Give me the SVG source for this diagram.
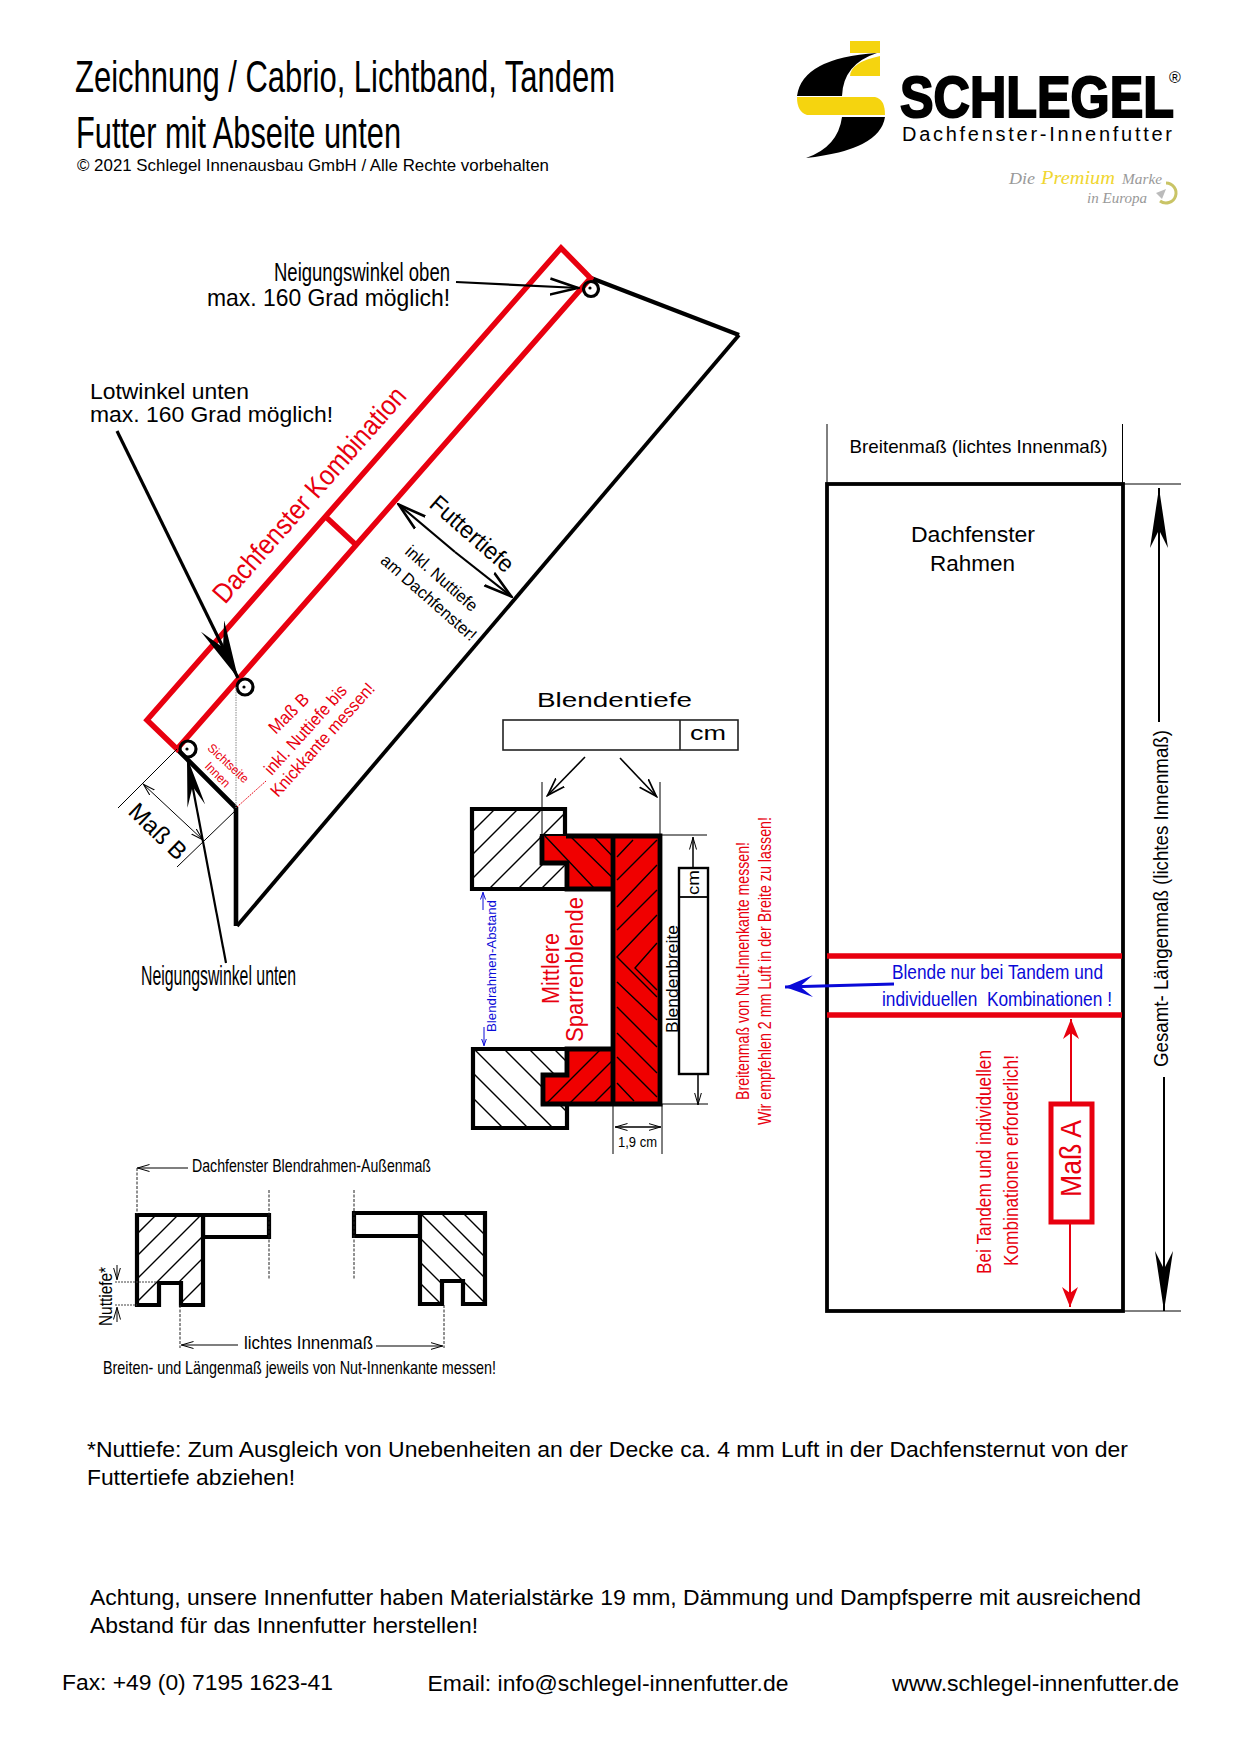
<svg xmlns="http://www.w3.org/2000/svg" width="1240" height="1754" viewBox="0 0 1240 1754">
<style>
text{font-family:"Liberation Sans",Arial,sans-serif;fill:#000;white-space:pre}
.r{fill:#e8000f}.b{fill:#0a0ad8}
.ln{fill:none;stroke:#000;stroke-linejoin:miter}
.red{fill:none;stroke:#e8000f;stroke-width:5.5}
.thin{fill:none;stroke:#000;stroke-width:1}
.h{stroke:#000;stroke-width:1.4;fill:none}
.dash{stroke:#222;stroke-width:1;stroke-dasharray:3 1.5;fill:none}
.block{fill:#fff;stroke:#000;stroke-width:4.2}
.sc{font-family:"Liberation Serif",serif;font-style:italic;fill:#999}
</style>
<defs>
<marker id="spear" markerUnits="userSpaceOnUse" viewBox="0 0 60 18" refX="60" refY="9" markerWidth="60" markerHeight="18" orient="auto"><path d="M60 9L0 0L18 9L0 18Z"/></marker>
<marker id="spearL" markerUnits="userSpaceOnUse" viewBox="0 0 58 26" refX="58" refY="13" markerWidth="58" markerHeight="26" orient="auto"><path d="M58 13L0 0L24 13L0 26Z"/></marker>
<marker id="spearS" markerUnits="userSpaceOnUse" viewBox="0 0 50 18" refX="50" refY="9" markerWidth="50" markerHeight="18" orient="auto"><path d="M50 9L0 0L20 9L0 18Z"/></marker>
<marker id="redHead" markerUnits="userSpaceOnUse" viewBox="0 0 20 16" refX="20" refY="8" markerWidth="20" markerHeight="16" orient="auto"><path d="M20 8L0 0L6 8L0 16Z" fill="#e8000f"/></marker>
<marker id="blueHead" markerUnits="userSpaceOnUse" viewBox="0 0 28 22" refX="28" refY="11" markerWidth="28" markerHeight="22" orient="auto"><path d="M28 11L0 0L13 11L0 22Z" fill="#0a0ad8"/></marker>
<marker id="openL" markerUnits="userSpaceOnUse" viewBox="0 0 30 20" refX="29" refY="10" markerWidth="30" markerHeight="20" orient="auto"><path d="M0 2L28 10L0 18" fill="none" stroke="#000" stroke-width="2.6"/></marker>
<marker id="openM" markerUnits="userSpaceOnUse" viewBox="0 0 20 14" refX="19" refY="7" markerWidth="20" markerHeight="14" orient="auto"><path d="M0 1L18 7L0 13" fill="none" stroke="#000" stroke-width="1.7"/></marker>
<marker id="openS" markerUnits="userSpaceOnUse" viewBox="0 0 13 8" refX="12.5" refY="4" markerWidth="13" markerHeight="8" orient="auto-start-reverse"><path d="M0 .5L12 4L0 7.5" fill="none" stroke="#000" stroke-width="1"/></marker>
<marker id="blueS" markerUnits="userSpaceOnUse" viewBox="0 0 8 6" refX="7.5" refY="3" markerWidth="8" markerHeight="6" orient="auto"><path d="M0 .5L7 3L0 5.5" fill="none" stroke="#0a0ad8" stroke-width="1"/></marker>
<clipPath id="c1"><path d="M472 809H565V836H542V863H567V889H472Z"/></clipPath>
<clipPath id="c2"><path d="M473 1049H567V1075H543V1103H567V1128H473Z"/></clipPath>
<clipPath id="c3"><path d="M542 836H613V889H567V863H542Z"/></clipPath>
<clipPath id="c4"><path d="M567 1049H613V1103H543V1075H567Z"/></clipPath>
<clipPath id="c6"><path d="M137 1215H203V1305H181V1283H159V1305H137Z"/></clipPath>
<clipPath id="c7"><path d="M420 1213H485V1304H463V1281H442V1304H420Z"/></clipPath>
</defs>
<rect width="1240" height="1754" fill="#fff"/>

<g id="title">
<text x="75" y="92" font-size="44" textLength="540" lengthAdjust="spacingAndGlyphs">Zeichnung / Cabrio, Lichtband, Tandem</text>
<text x="76" y="148" font-size="44" textLength="325" lengthAdjust="spacingAndGlyphs">Futter mit Abseite unten</text>
<text x="77" y="171" font-size="17" textLength="472" lengthAdjust="spacingAndGlyphs">© 2021 Schlegel Innenausbau GmbH / Alle Rechte vorbehalten</text>
</g>

<g id="logo">
<rect x="850" y="41" width="30" height="12" fill="#f5d40f"/>
<path d="M880 56V76H850Q851 62 880 56Z" fill="#f5d40f"/>
<path d="M877 53Q802 58 797 96H842Q843 64 877 53Z" fill="#000"/>
<path d="M797 97H875Q885 99 885 115H807Q797 112 797 97Z" fill="#f5d40f"/>
<path d="M842 117H885Q880 150 806 158Q838 147 842 117Z" fill="#000"/>
<text x="900" y="117" font-size="58" font-weight="700" textLength="274" lengthAdjust="spacingAndGlyphs" stroke="#000" stroke-width="2">SCHLEGEL</text>
<text x="1169" y="83" font-size="16">®</text>
<text x="902" y="141" font-size="20" textLength="270">Dachfenster-Innenfutter</text>
<text x="1009" y="184" class="sc" font-size="17" textLength="26" lengthAdjust="spacingAndGlyphs">Die</text>
<text x="1041" y="184" class="sc" style="fill:#f0d630" font-size="19" textLength="74" lengthAdjust="spacingAndGlyphs">Premium</text>
<text x="1122" y="184" class="sc" font-size="15" textLength="40" lengthAdjust="spacingAndGlyphs">Marke</text>
<text x="1087" y="203" class="sc" font-size="15" textLength="60" lengthAdjust="spacingAndGlyphs">in Europa</text>
<path d="M1166 183A10 10 0 1 1 1160 201" fill="none" stroke="#c9c466" stroke-width="3"/>
<path d="M1156 193L1166 189L1162 199Z" fill="#bbb"/>
</g>

<g id="roof-section">
<path class="ln" stroke-width="4.2" d="M591 278L739 335"/>
<path class="ln" stroke-width="3.8" d="M739 335L237 926"/>
<path class="ln" stroke-width="4.6" d="M236 926V808L177 749"/>
<path class="red" d="M561 248L590.5 278L177 749L147 720Z"/>
<path class="red" d="M326 517L355 544"/>
<circle class="ln" stroke-width="3.2" cx="591" cy="289" r="7.5"/><circle cx="590" cy="288" r="1.6"/>
<circle class="ln" stroke-width="3.2" cx="245" cy="687" r="8"/><circle cx="244" cy="687" r="1.6"/>
<circle class="ln" stroke-width="3.2" cx="188" cy="749" r="8"/><circle cx="187" cy="749" r="1.6"/>
<path d="M236 687V808" stroke="#888" stroke-width="1" stroke-dasharray="1.5 1" fill="none"/>
<path d="M237 807L266 781" stroke="#e8000f" stroke-width="1" stroke-dasharray="1.5 1" fill="none"/>
<text transform="translate(225 605) rotate(-48.7)" class="r" font-size="28" textLength="277" lengthAdjust="spacingAndGlyphs">Dachfenster Kombination</text>
<text transform="translate(428 506) rotate(41.3)" font-size="24" textLength="103" lengthAdjust="spacingAndGlyphs">Futtertiefe</text>
<text transform="translate(404 553) rotate(41.3)" font-size="17" textLength="90" lengthAdjust="spacingAndGlyphs">inkl. Nuttiefe</text>
<text transform="translate(379.5 562) rotate(41.3)" font-size="17" textLength="121" lengthAdjust="spacingAndGlyphs">am Dachfenster!</text>
<text transform="translate(275.7 735) rotate(-45)" class="r" font-size="18" textLength="49" lengthAdjust="spacingAndGlyphs">Maß B</text>
<text transform="translate(271.7 776) rotate(-48)" class="r" font-size="17.5" textLength="114" lengthAdjust="spacingAndGlyphs">inkl. Nuttiefe bis</text>
<text transform="translate(278 798) rotate(-48)" class="r" font-size="17.5" textLength="146" lengthAdjust="spacingAndGlyphs">Knickkante messen!</text>
<text transform="translate(206.7 749) rotate(43)" class="r" font-size="12.5" textLength="51" lengthAdjust="spacingAndGlyphs">Sichtseite</text>
<text transform="translate(204 767) rotate(45)" class="r" font-size="12.5" textLength="30" lengthAdjust="spacingAndGlyphs">Innen</text>
<text transform="translate(127 813) rotate(44)" font-size="24" textLength="70" lengthAdjust="spacingAndGlyphs">Maß B</text>
<text x="274" y="281" font-size="26" textLength="176" lengthAdjust="spacingAndGlyphs">Neigungswinkel oben</text>
<text x="207" y="306" font-size="24" textLength="243" lengthAdjust="spacingAndGlyphs">max. 160 Grad möglich!</text>
<text x="90" y="399" font-size="21.5" textLength="159" lengthAdjust="spacingAndGlyphs">Lotwinkel unten</text>
<text x="90" y="422" font-size="21.5" textLength="243" lengthAdjust="spacingAndGlyphs">max. 160 Grad möglich!</text>
<text x="141" y="985" font-size="28" textLength="155" lengthAdjust="spacingAndGlyphs">Neigungswinkel unten</text>
</g>

<g id="blendentiefe">
<text x="537" y="707" font-size="20.5" textLength="155" lengthAdjust="spacingAndGlyphs">Blendentiefe</text>
<rect x="503" y="720" width="235" height="30" fill="#fff" stroke="#222" stroke-width="1.6"/>
<path d="M680 720V750" stroke="#222" stroke-width="1.6"/>
<text x="690" y="740" font-size="20" textLength="36" lengthAdjust="spacingAndGlyphs">cm</text>
</g>

<g id="cross-section">
<path class="block" d="M472 809H565V836H542V863H567V889H472Z"/>
<path class="block" d="M473 1049H567V1075H543V1103H567V1128H473Z"/>
<g clip-path="url(#c1)" class="h">
<path d="M504 800L464 840M527 800L447 880M551 800L451 900M578 800L478 900M607 800L507 900M630 800L530 900"/>
</g>
<g clip-path="url(#c2)" class="h">
<path d="M465 1040L580 1155M465 1065L580 1180M465 1090L570 1195M495 1040L600 1145M520 1040L620 1140M545 1040L645 1140"/>
</g>
<path d="M542 836H613V889H567V863H542ZM567 1049H613V1103H543V1075H567Z" fill="#f00000"/>
<rect x="613" y="836" width="47" height="268" fill="#f00000"/>
<g clip-path="url(#c3)" class="h">
<path d="M545 836L610 905M570 836L635 900M593 836L640 885"/>
</g>
<g clip-path="url(#c4)" class="h">
<path d="M545 1105L610 1040M568 1105L625 1048M592 1105L640 1057"/>
</g>
<g class="h">
<path d="M633 840L617 857M657 840L617 880M657 865L617 907M657 890L617 930M657 915L617 957L657 997M657 943L635 968L657 990M617 982L657 1020M617 1007L657 1047M617 1033L657 1073M617 1057L657 1097M617 1083L634 1101"/>
</g>
<path class="ln" stroke-width="4.8" d="M566 836H660V1104H543V1075H567V1049H613M613 836V1104M542 836V863H567V889H613"/>
<text transform="translate(496 1032) rotate(-90)" class="b" font-size="13" textLength="132" lengthAdjust="spacingAndGlyphs">Blendrahmen-Abstand</text>
<text transform="translate(559 1004) rotate(-90)" class="r" font-size="23" textLength="71" lengthAdjust="spacingAndGlyphs">Mittlere</text>
<text transform="translate(583 1042) rotate(-90)" class="r" font-size="23" textLength="145" lengthAdjust="spacingAndGlyphs">Sparrenblende</text>
</g>

<g id="blendenbreite">
<rect x="679" y="868" width="29" height="206" fill="#fff" stroke="#000" stroke-width="2.4"/>
<path d="M679 897H708" stroke="#000" stroke-width="1.8"/>
<text transform="translate(699 895) rotate(-90)" font-size="17" textLength="25" lengthAdjust="spacingAndGlyphs">cm</text>
<text transform="translate(678 1033) rotate(-90)" font-size="16.5" textLength="108" lengthAdjust="spacingAndGlyphs">Blendenbreite</text>
<text x="618" y="1147" font-size="14" textLength="39" lengthAdjust="spacingAndGlyphs">1,9 cm</text>
<text transform="translate(748.5 1100) rotate(-90)" class="r" font-size="17.5" textLength="258" lengthAdjust="spacingAndGlyphs">Breitenmaß von Nut-Innenkante messen!</text>
<text transform="translate(770.5 1125) rotate(-90)" class="r" font-size="17.5" textLength="308" lengthAdjust="spacingAndGlyphs">Wir empfehlen 2 mm Luft in der Breite zu lassen!</text>
</g>

<g id="window-frame">
<rect x="827" y="484" width="296" height="827" fill="none" stroke="#000" stroke-width="3.8"/>
<path class="red" d="M827 956H1122M827 1015H1122"/>
<text x="849.5" y="453" font-size="19" textLength="258" lengthAdjust="spacingAndGlyphs">Breitenmaß (lichtes Innenmaß)</text>
<text x="911" y="542" font-size="22.5" textLength="124" lengthAdjust="spacingAndGlyphs">Dachfenster</text>
<text x="930" y="571" font-size="22.5" textLength="85" lengthAdjust="spacingAndGlyphs">Rahmen</text>
<text x="892" y="979" class="b" font-size="21" textLength="211" lengthAdjust="spacingAndGlyphs">Blende nur bei Tandem und</text>
<text x="882" y="1006" class="b" font-size="21" textLength="230" lengthAdjust="spacingAndGlyphs">individuellen  Kombinationen !</text>
<rect x="1051" y="1104" width="41" height="118" fill="#fff" stroke="#e8000f" stroke-width="5"/>
<text transform="translate(1081 1197) rotate(-90)" class="r" font-size="30" textLength="77" lengthAdjust="spacingAndGlyphs">Maß A</text>
<text transform="translate(991 1274) rotate(-90)" class="r" font-size="21" textLength="224" lengthAdjust="spacingAndGlyphs">Bei Tandem und individuellen</text>
<text transform="translate(1018 1266) rotate(-90)" class="r" font-size="21" textLength="211" lengthAdjust="spacingAndGlyphs">Kombinationen erforderlich!</text>
<text transform="translate(1168 1067) rotate(-90)" font-size="20" textLength="337" lengthAdjust="spacingAndGlyphs">Gesamt- Längenmaß (lichtes Innenmaß)</text>
</g>

<g id="frame-detail">
<path class="block" d="M203 1215H269V1237H203ZM354 1213H420V1236H354Z"/>
<path class="block" d="M137 1215H203V1305H181V1283H159V1305H137Z"/>
<path class="block" d="M420 1213H485V1304H463V1281H442V1304H420Z"/>
<g clip-path="url(#c6)" class="h">
<path d="M131 1240L160 1211M131 1262L185 1208M131 1285L205 1211M131 1308L215 1224M140 1321L215 1246M160 1324L215 1269"/>
</g>
<g clip-path="url(#c7)" class="h">
<path d="M440 1212L490 1262M462 1212L490 1240M416 1209L490 1283M416 1234L490 1308M416 1258L470 1312M416 1279L445 1308"/>
</g>
<text x="192" y="1172" font-size="18" textLength="239" lengthAdjust="spacingAndGlyphs">Dachfenster Blendrahmen-Außenmaß</text>
<text x="244" y="1349" font-size="17.5" textLength="129" lengthAdjust="spacingAndGlyphs">lichtes Innenmaß</text>
<text x="103" y="1374" font-size="18.5" textLength="393" lengthAdjust="spacingAndGlyphs">Breiten- und Längenmaß jeweils von Nut-Innenkante messen!</text>
<text transform="translate(112 1326) rotate(-90)" font-size="18" textLength="59" lengthAdjust="spacingAndGlyphs">Nuttiefe*</text>
</g>

<g id="connectors">
<path d="M456 282L579 288" class="ln" stroke-width="2.2" marker-end="url(#openL)"/>
<path d="M117 431L238 678" class="ln" stroke-width="3.2" marker-end="url(#spearL)"/>
<path d="M226 963L187 757" class="ln" stroke-width="2.2" marker-end="url(#spearS)"/>
<path d="M455 552L398 504" class="ln" stroke-width="2.2" marker-end="url(#openL)"/>
<path d="M455 552L512 597" class="ln" stroke-width="2.2" marker-end="url(#openL)"/>
<path class="thin" d="M177 749L118 808M236 810L177 867"/>
<path class="thin" d="M173 812L143 784" marker-end="url(#openS)"/>
<path class="thin" d="M173 812L203 840" marker-end="url(#openS)"/>
<path d="M585 757L547 796" class="ln" stroke-width="1.6" marker-end="url(#openM)"/>
<path d="M620 758L657 797" class="ln" stroke-width="1.6" marker-end="url(#openM)"/>
<path class="thin" d="M542 782V835M660 782V835M660 835H707M662 1104H708"/>
<path class="ln" stroke-width="1.5" d="M693 868V837" marker-end="url(#openS)"/>
<path class="ln" stroke-width="1.5" d="M698 1074V1105" marker-end="url(#openS)"/>
<path class="thin" d="M613 1104V1154M662 1104V1154"/>
<path class="ln" stroke-width="1.5" d="M638 1127H615" marker-end="url(#openS)"/>
<path class="ln" stroke-width="1.5" d="M638 1127H661" marker-end="url(#openS)"/>
<path d="M483 910V892" stroke="#0a0ad8" stroke-width="1" marker-end="url(#blueS)"/>
<path d="M484 1027V1046" stroke="#0a0ad8" stroke-width="1" marker-end="url(#blueS)"/>
<path class="thin" d="M827 424V484M1122.5 424V484M1124 484H1181M1124 1311H1181"/>
<path class="ln" stroke-width="2" d="M1159 722V488" marker-end="url(#spear)"/>
<path class="ln" stroke-width="2" d="M1164 1077V1311" marker-end="url(#spear)"/>
<path d="M894 984L785 987" fill="none" stroke="#0a0ad8" stroke-width="3" marker-end="url(#blueHead)"/>
<path d="M1071 1103V1019" fill="none" stroke="#e8000f" stroke-width="2" marker-end="url(#redHead)"/>
<path d="M1070 1223V1307" fill="none" stroke="#e8000f" stroke-width="2" marker-end="url(#redHead)"/>
<path class="ln" stroke-width="1.2" d="M188 1168H137" marker-end="url(#openS)"/>
<path class="dash" d="M137 1168V1214M269 1190V1280M354 1190V1280M180 1305V1348M444 1305V1348"/>
<path d="M115 1282H157M115 1305H137" fill="none" stroke="#444" stroke-width="1" stroke-dasharray="2 1"/>
<path class="thin" d="M117 1265V1280" marker-end="url(#openS)"/>
<path class="thin" d="M117 1322V1307" marker-end="url(#openS)"/>
<path class="ln" stroke-width="1.2" d="M238 1345H181" marker-end="url(#openS)"/>
<path class="ln" stroke-width="1.2" d="M376 1346H443" marker-end="url(#openS)"/>
</g>

<g id="notes">
<text x="87" y="1457" font-size="22.5" textLength="1041" lengthAdjust="spacingAndGlyphs">*Nuttiefe: Zum Ausgleich von Unebenheiten an der Decke ca. 4 mm Luft in der Dachfensternut von der</text>
<text x="87" y="1485" font-size="22.5" textLength="208" lengthAdjust="spacingAndGlyphs">Futtertiefe abziehen!</text>
<text x="90" y="1605" font-size="22.5" textLength="1051" lengthAdjust="spacingAndGlyphs">Achtung, unsere Innenfutter haben Materialstärke 19 mm, Dämmung und Dampfsperre mit ausreichend</text>
<text x="90" y="1633" font-size="22.5" textLength="388" lengthAdjust="spacingAndGlyphs">Abstand für das Innenfutter herstellen!</text>
<text x="62" y="1690" font-size="22.5" textLength="271" lengthAdjust="spacingAndGlyphs">Fax: +49 (0) 7195 1623-41</text>
<text x="427.5" y="1691" font-size="22.5" textLength="361" lengthAdjust="spacingAndGlyphs">Email: info@schlegel-innenfutter.de</text>
<text x="892" y="1691" font-size="22.5" textLength="287" lengthAdjust="spacingAndGlyphs">www.schlegel-innenfutter.de</text>
</g>
</svg>
